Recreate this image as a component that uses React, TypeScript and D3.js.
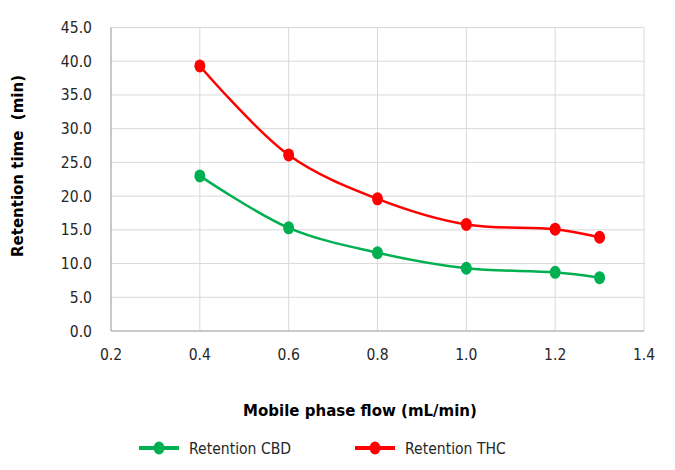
import React from "react";
import * as d3 from "d3";

const flows = [0.4, 0.6, 0.8, 1.0, 1.2, 1.3];
const retentionCBD = [23.0, 15.3, 11.6, 9.3, 8.7, 7.9];
const retentionTHC = [39.3, 26.1, 19.6, 15.8, 15.1, 13.9];
const xTicks = [0.2, 0.4, 0.6, 0.8, 1.0, 1.2, 1.4];
const yTicks = [0, 5, 10, 15, 20, 25, 30, 35, 40, 45];
const seriesNames = ["Retention CBD", "Retention THC"];
const seriesColors = ["#00B050", "#FF0000"];

const W = 675, H = 470;
const M = { left: 111, right: 644, top: 27.5, bottom: 331 };
const FONT = "'DejaVu Sans', Verdana, sans-serif";
const SY = 1.13;

export default function App() {
  const x = d3.scaleLinear().domain([0.2, 1.4]).range([M.left, M.right]);
  const y = d3.scaleLinear().domain([0, 45]).range([M.bottom, M.top]);
  const line = d3
    .line<number>()
    .x((_, i) => x(flows[i]))
    .y((d) => y(d))
    .curve(d3.curveCatmullRom.alpha(0.5));
  const series = [retentionCBD, retentionTHC];
  const legendX = [139, 355];
  return (
    <div style={{ position: "absolute", left: 0, top: 0 }}>
      <svg width={W} height={H} style={{ display: "block", background: "#fff" }}>
        {yTicks.map((t) => (
          <line key={"gy" + t} x1={M.left} x2={M.right} y1={y(t)} y2={y(t)} stroke="#d9d9d9" strokeWidth={1} />
        ))}
        {xTicks.map((t) => (
          <line key={"gx" + t} x1={x(t)} x2={x(t)} y1={M.top} y2={M.bottom} stroke="#d9d9d9" strokeWidth={1} />
        ))}
        <line x1={M.left} x2={M.left} y1={M.top} y2={M.bottom} stroke="#a6a6a6" strokeWidth={1} />
        <line x1={M.left} x2={M.right} y1={M.bottom} y2={M.bottom} stroke="#a6a6a6" strokeWidth={1} />
        {yTicks.map((t) => (
          <text
            key={"ty" + t}
            transform={`translate(92,${y(t) + 5.5}) scale(1,${SY})`}
            textAnchor="end"
            fontFamily={FONT}
            fontSize={14}
            fill="#262626"
          >
            {t.toFixed(1)}
          </text>
        ))}
        {xTicks.map((t) => (
          <text
            key={"tx" + t}
            transform={`translate(${x(t)},360) scale(1,${SY})`}
            textAnchor="middle"
            fontFamily={FONT}
            fontSize={14}
            fill="#262626"
          >
            {t.toFixed(1)}
          </text>
        ))}
        <text
          transform={`translate(23,166) rotate(-90) scale(1,1.08)`}
          textAnchor="middle"
          fontFamily={FONT}
          fontSize={15}
          fontWeight="bold"
          fill="#000"
          style={{ whiteSpace: "pre" }}
        >
          {"Retention time  (min)"}
        </text>
        <text
          transform={`translate(360,416) scale(1,1.08)`}
          textAnchor="middle"
          fontFamily={FONT}
          fontSize={15}
          fontWeight="bold"
          fill="#000"
        >
          Mobile phase flow (mL/min)
        </text>
        {series.map((s, si) => (
          <g key={"s" + si}>
            <path d={line(s) || ""} fill="none" stroke={seriesColors[si]} strokeWidth={2.5} />
            {s.map((v, i) => (
              <ellipse key={i} cx={x(flows[i])} cy={y(v)} rx={5.5} ry={6.5} fill={seriesColors[si]} />
            ))}
          </g>
        ))}
        {seriesNames.map((n, i) => (
          <g key={"lg" + i}>
            <line x1={legendX[i]} x2={legendX[i] + 40} y1={448} y2={448} stroke={seriesColors[i]} strokeWidth={4} />
            <ellipse cx={legendX[i] + 20} cy={448} rx={5.5} ry={6.5} fill={seriesColors[i]} />
            <text
              transform={`translate(${legendX[i] + 50},454) scale(1,${SY})`}
              fontFamily={FONT}
              fontSize={14}
              fill="#262626"
            >
              {n}
            </text>
          </g>
        ))}
      </svg>
    </div>
  );
}
